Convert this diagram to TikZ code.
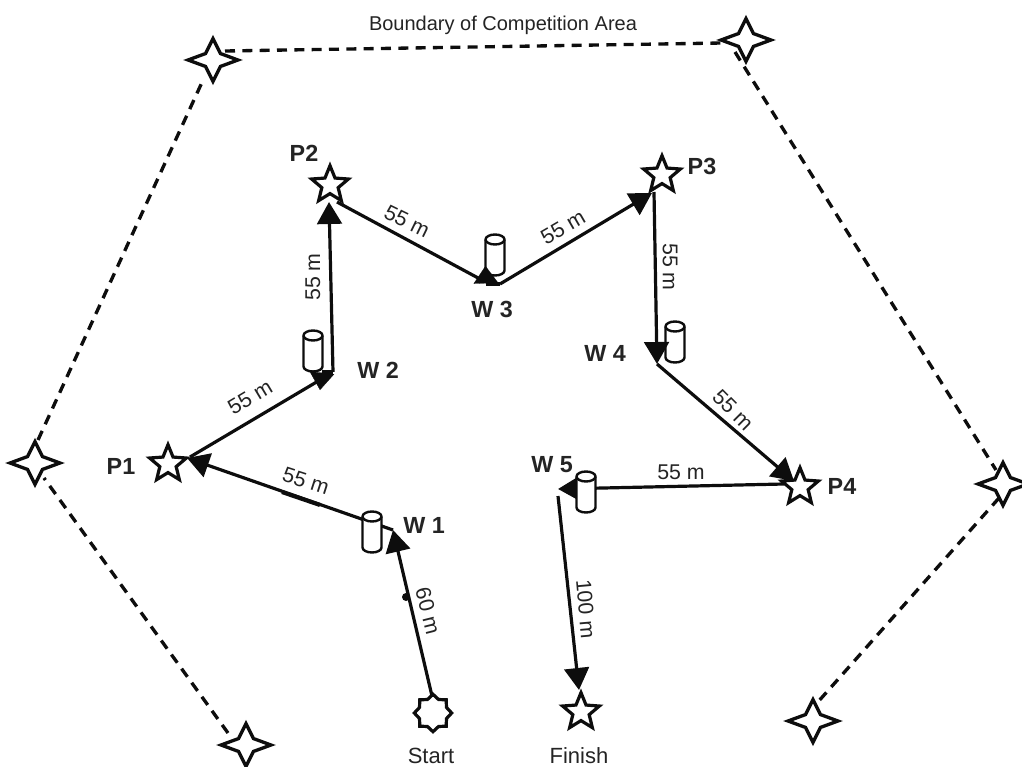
\documentclass[tikz,border=0pt]{standalone}
\usepackage{fontspec}
\setmainfont{Liberation Sans}
\usetikzlibrary{shapes.geometric,arrows.meta}
\definecolor{ink}{HTML}{0D0D0D}
\definecolor{txt}{HTML}{242424}
\tikzset{
  x=0.75pt,y=-0.75pt,
  bstar/.style={draw=ink,fill=white,line width=2.5pt,star,star points=4,star point ratio=2.35,minimum size=32pt,xscale=1.17,inner sep=0pt,outer sep=0pt,line join=miter},
  pstar/.style={draw=ink,fill=white,line width=2.4pt,star,star points=5,star point ratio=2.25,minimum size=29pt,inner sep=0pt,outer sep=0pt,line join=miter},
  sstar/.style={draw=ink,fill=white,line width=2.4pt,star,star points=8,star point ratio=1.28,minimum size=28pt,inner sep=0pt,outer sep=0pt},
  wcyl/.pic={
    \draw[ink,fill=white,line width=1.8pt,line join=round]
      (-9.5,-15.5) -- (-9.5,15.5) arc[start angle=180,end angle=0,x radius=9.5,y radius=5]
      -- (9.5,-15.5) arc[start angle=360,end angle=180,x radius=9.5,y radius=5] -- cycle;
    \draw[ink,line width=1.8pt] (-9.5,-15.5) arc[start angle=180,end angle=0,x radius=9.5,y radius=5];
  },
  bound/.style={draw=ink,line width=2.5pt,dash pattern=on 7.5pt off 5.5pt},
  leg/.style={draw=ink,line width=2.4pt,-{Triangle[length=16.5pt,width=18.5pt]}},
  plainleg/.style={draw=ink,line width=2.4pt},
  stub/.style={draw=ink,line width=0.2pt,-{Triangle[length=13pt,width=18.5pt]}},
  dist/.style={text=txt,font=\fontsize{16}{18}\selectfont,inner sep=0pt},
  lab/.style={text=txt,font=\fontsize{15}{17}\selectfont,inner sep=0pt},
  wp/.style={text=txt,font=\bfseries\fontsize{17.5}{19}\selectfont,inner sep=0pt}
}
\begin{document}
\begin{tikzpicture}
\useasboundingbox (0,0) rectangle (1022,767);
% boundary markers
\node[bstar] (B1) at (213,60) {};
\node[bstar] (B2) at (746,40) {};
\node[bstar] (B3) at (1003,484) {};
\node[bstar] (B4) at (813,721) {};
\node[bstar] (B5) at (246,745) {};
\node[bstar] (B6) at (35,463) {};
\coordinate (B1e) at (225,51);
\coordinate (B2w) at (722,43);
\coordinate (B1s) at (204,78);
\coordinate (B6n) at (38,440);
\coordinate (B2s) at (735,52);
\coordinate (B3n) at (996,470);
\coordinate (B3s) at (999,498);
\coordinate (B4n) at (817,703);
\coordinate (B5n) at (228,733);
\coordinate (B6s) at (44,478);
\draw[bound] (B1e) -- (B2w);
\draw[bound] (B2s) -- (B3n);
\draw[bound] (B3s) -- (B4n);
\draw[bound] (B5n) -- (B6s);
\draw[bound] (B6n) -- (B1s);
% course stars
\node[pstar] (P1) at (168,464) {};
\node[pstar] (P2) at (330,185) {};
\node[pstar] (P3) at (662,175) {};
\node[pstar] (P4) at (800,487) {};
\node[pstar] (F) at (581,712) {};
\node[sstar] (S) at (433,713) {};
% cylinders behind the arrows
\pic (C2) at (313,351) {wcyl};
\pic (C3) at (495,255) {wcyl};
\pic (C4) at (675,342) {wcyl};
% ends of the legs at the stars
\coordinate (P1i) at (187,458);
\coordinate (P1o) at (190,457);
\coordinate (P2i) at (329,202);
\coordinate (P2o) at (337,202);
\coordinate (P3i) at (652,193);
\coordinate (P3o) at (654,192);
\coordinate (P4i) at (794,481);
\coordinate (P4o) at (784,484);
\coordinate (Fi) at (579,690);
\coordinate (So) at (432,696);
% turning points
\coordinate (W1) at (393,530);
\coordinate (W2in) at (325,377);
\coordinate (W2a) at (322,372);
\coordinate (W2t) at (320,390);
\coordinate (W2r) at (333,372);
\coordinate (W3in) at (480,279);
\coordinate (W3a) at (486,284);
\coordinate (W3t) at (485.5,266);
\coordinate (W3r) at (500,284);
\coordinate (W4) at (657,364);
\coordinate (W5) at (558,489);
\coordinate (W5o) at (558,496);
% legs
\draw[leg] (So) -- (W1);
\fill[ink] (406,597) circle[radius=4];
\draw[leg] (W1) -- (P1i);
\draw[plainleg,line width=3.1pt] (282,492) -- (320,505);
\draw[plainleg] (P1o) -- (W2in);
\draw[stub] (W2a) -- (W2t);
\draw[plainleg] (W2a) -- (W2r);
\draw[leg] (W2r) -- (P2i);
\draw[plainleg] (P2o) -- (W3in);
\draw[stub] (W3a) -- (W3t);
\draw[plainleg] (W3a) -- (W3r);
\draw[leg] (W3r) -- (P3i);
\draw[leg] (P3o) -- (W4);
\draw[leg] (W4) -- (P4i);
\draw[leg] (P4o) -- (W5);
\draw[leg] (W5o) -- (Fi);
% cylinders over the arrows
\pic (C1) at (372,532) {wcyl};
\pic (C5) at (586,492) {wcyl};
% texts
\node[lab] (tB) at (503,25) {Boundary of Competition Area};
\node[lab,font=\fontsize{16.5}{18}\selectfont] (tS) at (431,756) {Start};
\node[lab,font=\fontsize{16.5}{18}\selectfont] (tF) at (579,756) {Finish};
\node[wp] (tP1) at (121,466) {P1};
\node[wp] (tP2) at (304,153) {P2};
\node[wp] (tP3) at (702,166) {P3};
\node[wp] (tP4) at (842,486) {P4};
\node[wp] (tW1) at (424,525) {W 1};
\node[wp] (tW2) at (378,370) {W 2};
\node[wp] (tW3) at (492,309) {W 3};
\node[wp] (tW4) at (605,353) {W 4};
\node[wp] (tW5) at (552,465) {W 5};
\node[dist,rotate=-18] (d1) at (306,481) {55 m};
\node[dist,rotate=31] (d2) at (250,397) {55 m};
\node[dist,rotate=90] (d3) at (313,277) {55 m};
\node[dist,rotate=-26] (d4) at (407,221) {55 m};
\node[dist,rotate=30] (d5) at (563,227) {55 m};
\node[dist,rotate=-90] (d6) at (670,267) {55 m};
\node[dist,rotate=-45] (d7) at (733,410) {55 m};
\node[dist] (d8) at (681,472) {55 m};
\node[dist,rotate=-76] (d9) at (428,611) {60 m};
\node[dist,rotate=-85] (d10) at (586,609) {100 m};
\end{tikzpicture}
\end{document}
